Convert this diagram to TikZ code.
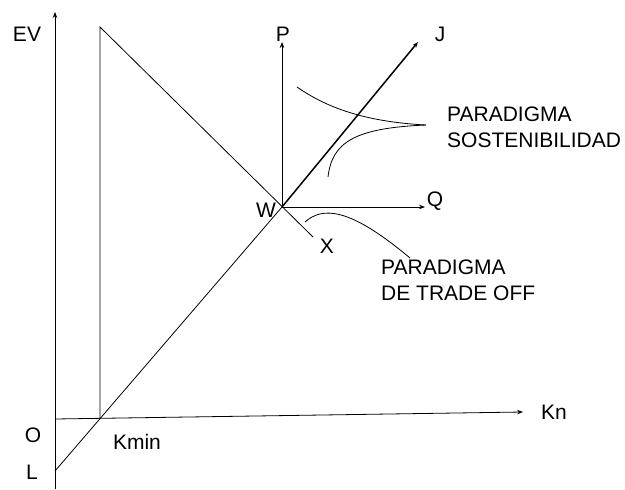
\documentclass[tikz,border=0pt]{standalone}
\usepackage{fontspec}
\setmainfont{Liberation Sans}
\usetikzlibrary{arrows.meta}
\begin{document}
\begin{tikzpicture}[x=1pt,y=-1pt,
  ln/.style={line width=0.8pt,black},
  ax/.style={ln,-{Stealth[length=6pt,width=4.5pt]}},
  lbl/.style={inner sep=0pt,font=\fontsize{21}{26}\selectfont},
  par/.style={lbl,align=left,anchor=north west}]
\useasboundingbox (0,0) rectangle (625,490);
% points
\coordinate (EVb) at (55,489);
\coordinate (EVt) at (55,12);
\coordinate (Ot) at (55,419);
\coordinate (Kt) at (523,412);
\coordinate (Vt) at (100,27);
\coordinate (Vb) at (100,419);
\coordinate (Lp) at (55,471);
\coordinate (W) at (282,207);
\coordinate (Xe) at (313,237);
\coordinate (Jt) at (418,42);
\coordinate (Pt) at (282,42);
\coordinate (Qt) at (425,207);
% axes
\draw[ax] (EVb) -- (EVt);
\draw[ax] (Ot) -- (Kt);
\draw[ln] (Vb) -- (Vt) -- (Xe);
\draw[ln] (Lp) -- (W);
\draw[ax,line width=1.5pt] (W) -- (Jt);
\draw[ax] (W) -- (Pt);
\draw[ax] (W) -- (Qt);
% curves
\coordinate (C1s) at (297,87);
\coordinate (Tip) at (426,125);
\coordinate (C2e) at (328,177);
\coordinate (C3s) at (305,222);
\coordinate (C3e) at (410,258);
\draw[ln] (C1s) .. controls (330,110) and (370,122) .. (Tip);
\draw[ln] (Tip) .. controls (355,128) and (332,142) .. (C2e);
\draw[ln] (C3s) .. controls (322,207) and (348,206) .. (C3e);
% labels
\node[lbl] (lEV) at (27,34) {EV};
\node[lbl] (lP) at (283,34) {P};
\node[lbl] (lJ) at (440,34) {J};
\node[lbl] (lQ) at (435,201) {Q};
\node[lbl] (lW) at (266,210) {W};
\node[lbl] (lX) at (327,246) {X};
\node[lbl] (lO) at (33,435) {O};
\node[lbl] (lL) at (32,472) {L};
\node[lbl] (lK) at (137,442) {Kmin};
\node[lbl] (lKn) at (554,412) {Kn};
\node[par] (lS) at (447,107) {PARADIGMA\\SOSTENIBILIDAD};
\node[par] (lT) at (381,260) {PARADIGMA\\DE TRADE OFF};
\end{tikzpicture}
\end{document}
